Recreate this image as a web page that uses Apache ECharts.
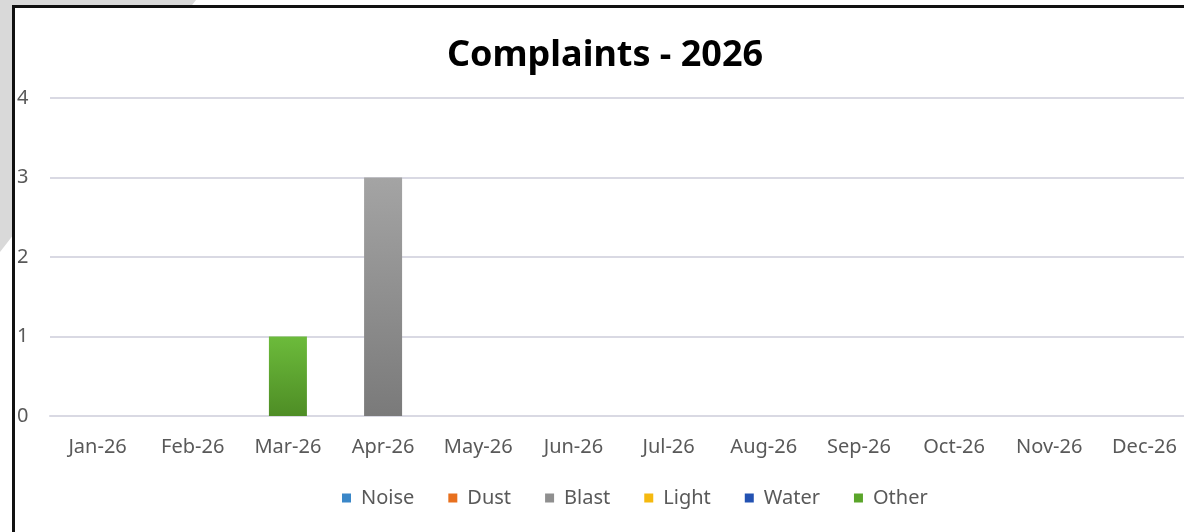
<!DOCTYPE html>
<html>
<head>
<meta charset="utf-8">
<script src="https://cdn.jsdelivr.net/npm/echarts@6/dist/echarts.min.js"></script>
<style>
  html, body { margin: 0; padding: 0; background: #ffffff; }
  #wrap { position: relative; width: 1184px; height: 532px; overflow: hidden; background: #ffffff; }
  #grey { position: absolute; left: 0; top: 0; width: 200px; height: 260px; background: #d9d9d9;
          clip-path: polygon(0 0, 196px 0, 0 252px); }
  #frame { position: absolute; left: 12px; top: 5px; width: 1300px; height: 600px; background: #ffffff;
           border: 3px solid #111111; box-sizing: border-box; }
  #chart { position: absolute; left: 0; top: 0; width: 1210px; height: 532px; }
</style>
</head>
<body>
<div id="wrap"><div id="grey"></div><div id="frame"></div><div id="chart"></div></div>
<script>
const categories = ['Jan-26','Feb-26','Mar-26','Apr-26','May-26','Jun-26','Jul-26','Aug-26','Sep-26','Oct-26','Nov-26','Dec-26'];
const seriesNames = ['Noise','Dust','Blast','Light','Water','Other'];
const noise = [0,0,0,0,0,0,0,0,0,0,0,0];
const dust  = [0,0,0,0,0,0,0,0,0,0,0,0];
const blast = [0,0,0,3,0,0,0,0,0,0,0,0];
const light = [0,0,0,0,0,0,0,0,0,0,0,0];
const water = [0,0,0,0,0,0,0,0,0,0,0,0];
const other = [0,0,1,0,0,0,0,0,0,0,0,0];
const yTicks = [0,1,2,3,4];

const seriesData = [noise, dust, blast, light, water, other];
const flatColors = ['#3a87c8','#e8701e','#8f8f8f','#f5b90f','#2352b2','#5aa52a'];
const gradColors = [
  ['#4f98d6','#2f74b2'],
  ['#f0822e','#d2601a'],
  ['#a4a4a4','#7a7a7a'],
  ['#f8c428','#e6a800'],
  ['#3563c0','#1c449a'],
  ['#6cbb3b','#4e8d25']
];

const chart = echarts.init(document.getElementById('chart'), null, {renderer: 'canvas'});
const FONT = '"Noto Sans", "Open Sans", sans-serif';

const option = {
  animation: false,
  backgroundColor: 'transparent',
  title: {
    text: 'Complaints - 2026',
    left: 'center',
    top: 33,
    textStyle: { fontFamily: FONT, fontWeight: 'bold', fontSize: 36, color: '#000000' }
  },
  legend: {
    left: 337,
    top: 483,
    itemWidth: 9,
    itemHeight: 9,
    itemGap: 34,
    icon: 'rect',
    textStyle: { fontFamily: FONT, fontSize: 20, color: '#595959', padding: [0,0,0,5] },
    data: seriesNames.map((n, i) => ({ name: n, itemStyle: { color: flatColors[i] } }))
  },
  grid: { left: 50, right: 18, top: 98, bottom: 116, containLabel: false },
  xAxis: {
    type: 'category',
    data: categories,
    boundaryGap: true,
    axisLine: { show: true, lineStyle: { color: '#d9d9e3', width: 2 } },
    axisTick: { show: false },
    axisLabel: { fontFamily: FONT, fontSize: 20, color: '#595959', margin: 21 }
  },
  yAxis: {
    type: 'value',
    min: yTicks[0],
    max: yTicks[yTicks.length - 1],
    interval: 1,
    axisLine: { show: false },
    axisTick: { show: false },
    splitLine: { show: true, lineStyle: { color: '#d9d9e3', width: 2 } },
    axisLabel: { fontFamily: FONT, fontSize: 20, color: '#595959', align: 'left', margin: 33 }
  },
  series: seriesNames.map((n, i) => ({
    name: n,
    type: 'bar',
    stack: 'total',
    barWidth: 38,
    data: seriesData[i],
    itemStyle: {
      color: new echarts.graphic.LinearGradient(0, 0, 0, 1, [
        { offset: 0, color: gradColors[i][0] },
        { offset: 1, color: gradColors[i][1] }
      ])
    },
    z: 3
  }))
};
chart.setOption(option);
</script>
</body>
</html>
